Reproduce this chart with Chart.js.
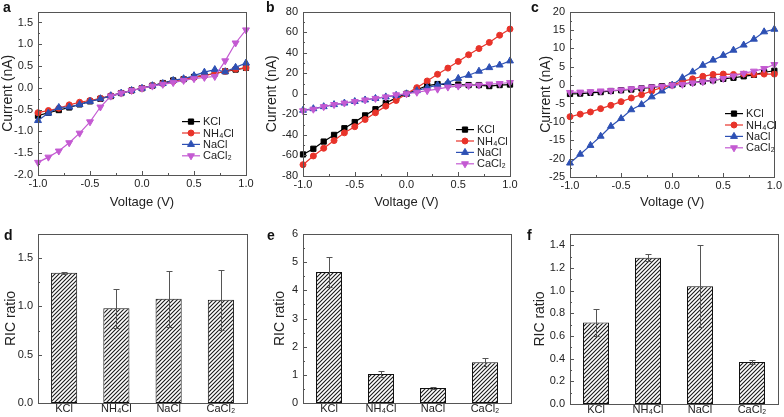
<!DOCTYPE html>
<html lang="en">
<head>
  <meta charset="UTF-8">
  <title>Ion current and RIC ratio</title>
  <script src="https://cdn.jsdelivr.net/npm/chart.js"></script>
  <style>
    body { margin: 0; background: #fff; }
    #fig { position: relative; width: 784px; height: 417px; overflow: hidden; }
    .panel { position: absolute; }
    .tag { position: absolute; font: bold 14px 'Liberation Sans', Arial, sans-serif; line-height: 14px; color: #111; }
  </style>
</head>
<body>
  <div id="fig">
    <div class="panel" style="left:0px; top:0px;"><canvas id="chartA" width="256" height="210"></canvas></div>
    <div class="panel" style="left:264px; top:0px;"><canvas id="chartB" width="256" height="210"></canvas></div>
    <div class="panel" style="left:538px; top:0px;"><canvas id="chartC" width="246" height="210"></canvas></div>
    <div class="panel" style="left:3px; top:210px;"><canvas id="chartD" width="253" height="207"></canvas></div>
    <div class="panel" style="left:272px; top:210px;"><canvas id="chartE" width="248" height="207"></canvas></div>
    <div class="panel" style="left:532px; top:210px;"><canvas id="chartF" width="252" height="207"></canvas></div>

    <div class="tag" style="left:3px; top:0px;">a</div>
    <div class="tag" style="left:266px; top:0px;">b</div>
    <div class="tag" style="left:531px; top:0px;">c</div>
    <div class="tag" style="left:4px; top:228px;">d</div>
    <div class="tag" style="left:267px; top:228px;">e</div>
    <div class="tag" style="left:527px; top:228px;">f</div>
  </div>

  <script>
    // ---- data ----
    const voltage = [-1.0, -0.9, -0.8, -0.7, -0.6, -0.5, -0.4, -0.3, -0.2, -0.1, 0.0, 0.1, 0.2, 0.3, 0.4, 0.5, 0.6, 0.7, 0.8, 0.9, 1.0];
    const saltNames = ['KCl', 'NH₄Cl', 'NaCl', 'CaCl₂'];
    const voltageTicks = [-1.0, -0.5, 0.0, 0.5, 1.0];

    // panel a (nA)
    const aKCl   = [-0.64, -0.57, -0.51, -0.45, -0.38, -0.31, -0.25, -0.19, -0.12, -0.06, -0.01, 0.05, 0.11, 0.17, 0.20, 0.25, 0.29, 0.33, 0.38, 0.42, 0.46];
    const aNH4Cl = [-0.57, -0.52, -0.47, -0.39, -0.33, -0.29, -0.24, -0.18, -0.12, -0.06, -0.01, 0.05, 0.10, 0.15, 0.20, 0.24, 0.28, 0.33, 0.38, 0.43, 0.46];
    const aNaCl  = [-0.75, -0.58, -0.45, -0.44, -0.38, -0.31, -0.25, -0.18, -0.12, -0.06, -0.01, 0.05, 0.10, 0.17, 0.21, 0.28, 0.36, 0.42, 0.37, 0.47, 0.57];
    const aCaCl2 = [-1.71, -1.59, -1.45, -1.26, -1.04, -0.78, -0.44, -0.19, -0.12, -0.06, -0.01, 0.04, 0.08, 0.12, 0.17, 0.21, 0.24, 0.26, 0.62, 1.03, 1.33];
    const aTicks = [-2.0, -1.5, -1.0, -0.5, 0.0, 0.5, 1.0, 1.5];

    // panel b (nA)
    const bKCl   = [-59, -53.5, -46.5, -40, -33.5, -27.5, -21, -15, -9, -4, 0, 4, 8, 9.5, 9, 9, 8.5, 8.5, 7.5, 8.5, 9];
    const bNH4Cl = [-69, -60.5, -53, -45.5, -38, -32, -25, -18.5, -12, -6.5, 0, 6, 12.5, 19, 25, 31.5, 38, 44, 50, 57, 63];
    const bNaCl  = [-16, -14.5, -12.5, -10.5, -9, -7.5, -6, -4.5, -3, -1.5, 0, 3, 6, 8.5, 11, 15, 18, 22, 25.5, 28, 32];
    const bCaCl2 = [-16.5, -15, -12.5, -10.5, -9, -7.5, -6, -4.5, -3, -1, 0, 1.5, 3, 4.5, 6.5, 7.5, 8, 8.5, 9.5, 10, 11];
    const bTicks = [-80, -60, -40, -20, 0, 20, 40, 60, 80];

    // panel c (nA)
    const cKCl   = [-2.4, -2.3, -2.1, -1.9, -1.6, -1.4, -1.2, -0.9, -0.6, -0.3, 0, 0.3, 0.7, 1.0, 1.3, 1.7, 2.0, 2.4, 2.8, 3.5, 3.9];
    const cNH4Cl = [-8.6, -7.9, -7.3, -6.4, -5.5, -4.5, -3.5, -2.6, -1.6, -0.6, 0, 1.0, 1.7, 2.4, 2.9, 3.0, 2.9, 3.0, 2.9, 3.0, 3.0];
    const cNaCl  = [-21.2, -18.8, -16.4, -13.9, -11.2, -9.1, -6.7, -5.3, -3.2, -1.6, 0, 2.0, 3.6, 5.4, 6.8, 8.1, 9.5, 10.9, 12.5, 14.5, 15.2];
    const cCaCl2 = [-2.0, -1.9, -1.8, -1.6, -1.5, -1.3, -1.0, -0.8, -0.5, -0.3, 0, 0.2, 0.6, 0.9, 1.3, 1.8, 2.5, 3.2, 3.8, 4.5, 5.6];
    const cTicks = [-25, -20, -15, -10, -5, 0, 5, 10, 15, 20];

    // panels d, e, f: RIC ratio with error
    const dRatio = [1.35, 0.98, 1.08, 1.07];
    const dError = [0.01, 0.20, 0.29, 0.31];
    const dTicks = [0.0, 0.5, 1.0, 1.5];

    const eRatio = [4.65, 1.03, 0.53, 1.45];
    const eError = [0.52, 0.09, 0.03, 0.15];
    const eTicks = [0, 1, 2, 3, 4, 5, 6];

    const fRatio = [0.72, 1.29, 1.04, 0.37];
    const fError = [0.12, 0.03, 0.36, 0.02];
    const fTicks = [0.0, 0.2, 0.4, 0.6, 0.8, 1.0, 1.2, 1.4];

    // ---- looks ----
    const FONT = "'Liberation Sans', Arial, 'DejaVu Sans', sans-serif";
    Chart.defaults.font.family = FONT;
    Chart.defaults.color = '#222';

    const seriesStyle = [
      { color: '#000000', pointStyle: 'rect', radius: 3.7, rotation: 0 },
      { color: '#e8332a', pointStyle: 'circle', radius: 3, rotation: 0 },
      { color: '#2d50b4', pointStyle: 'triangle', radius: 4, rotation: 0 },
      { color: '#c45ad2', pointStyle: 'triangle', radius: 4, rotation: 180 }
    ];

    // box around the plot plus inward major / minor ticks on left and bottom
    const frameTicks = {
      id: 'frameTicks',
      afterDatasetsDraw(chart, args, opts) {
        const { ctx, chartArea: a, scales } = chart;
        ctx.save();
        ctx.strokeStyle = '#555';
        ctx.lineWidth = 1;
        ctx.beginPath();
        const ys = scales.y;
        const yMinor = minorValues(ys.min, ys.max, opts.yMinor);
        yMinor.forEach(v => {
          const py = Math.round(ys.getPixelForValue(v)) + 0.5;
          const major = ys.ticks.some(t => Math.abs(t.value - v) < 1e-6);
          ctx.moveTo(a.left, py);
          ctx.lineTo(a.left + (major ? 4 : 2), py);
        });
        if (opts.xMinor) {
          const xs = scales.x;
          minorValues(xs.min, xs.max, opts.xMinor).forEach(v => {
            const px = Math.round(xs.getPixelForValue(v)) + 0.5;
            const major = xs.ticks.some(t => Math.abs(t.value - v) < 1e-6);
            ctx.moveTo(px, a.bottom);
            ctx.lineTo(px, a.bottom - (major ? 4 : 2));
          });
        }
        ctx.stroke();
        ctx.strokeRect(Math.round(a.left) + 0.5, Math.round(a.top) + 0.5,
                       Math.round(a.right - a.left), Math.round(a.bottom - a.top));
        ctx.restore();
      }
    };

    function minorValues(min, max, step) {
      const out = [];
      const n = Math.round((max - min) / step);
      for (let k = 0; k <= n; k++) out.push(min + k * step);
      return out;
    }

    // little key in the lower right of the line panels
    const seriesKey = {
      id: 'seriesKey',
      afterDatasetsDraw(chart, args, opts) {
        const { ctx, chartArea } = chart;
        ctx.save();
        ctx.font = '11px ' + FONT;
        ctx.textBaseline = 'middle';
        chart.data.datasets.forEach((ds, i) => {
          const x0 = chartArea.left + opts.x;
          const y0 = chartArea.top + opts.y + i * 11.4;
          ctx.strokeStyle = ds.borderColor;
          ctx.fillStyle = ds.pointBackgroundColor;
          ctx.lineWidth = 1.2;
          ctx.beginPath();
          ctx.moveTo(x0, y0);
          ctx.lineTo(x0 + 18, y0);
          ctx.stroke();
          ctx.lineWidth = 1;
          Chart.helpers.drawPoint(ctx, { pointStyle: ds.pointStyle, rotation: ds.pointRotation, radius: ds.pointRadius, borderWidth: 1 }, x0 + 9, y0);
          ctx.fillStyle = '#222';
          ctx.fillText(ds.label, x0 + 21, y0 + 0.5);
        });
        ctx.restore();
      }
    };

    // vertical error bars for the bar panels
    const errorBars = {
      id: 'errorBars',
      afterDatasetsDraw(chart) {
        const ctx = chart.ctx;
        const ys = chart.scales.y;
        ctx.save();
        ctx.strokeStyle = '#555';
        ctx.lineWidth = 1;
        chart.data.datasets.forEach((ds, i) => {
          chart.getDatasetMeta(i).data.forEach((bar, j) => {
            const x = Math.round(bar.x) + 0.5;
            const hi = Math.round(ys.getPixelForValue(ds.data[j] + ds.errors[j])) + 0.5;
            const lo = Math.round(ys.getPixelForValue(ds.data[j] - ds.errors[j])) + 0.5;
            ctx.beginPath();
            ctx.moveTo(x, hi); ctx.lineTo(x, lo);
            ctx.moveTo(x - 3, hi); ctx.lineTo(x + 3, hi);
            ctx.moveTo(x - 3, lo); ctx.lineTo(x + 3, lo);
            ctx.stroke();
          });
        });
        ctx.restore();
      }
    };

    function fixedTicks(list) {
      return scale => { scale.ticks = list.map(v => ({ value: v })); };
    }

    function makeLineChart(id, currents, yMin, yMax, yTicks, decimals, yMinor, box, key) {
      const datasets = currents.map((arr, i) => {
        const st = seriesStyle[i];
        return {
          label: saltNames[i],
          data: voltage.map((v, k) => ({ x: v, y: arr[k] })),
          borderColor: st.color,
          backgroundColor: st.color,
          pointBackgroundColor: st.color,
          pointBorderColor: st.color,
          pointStyle: st.pointStyle,
          pointRadius: st.radius,
          pointRotation: st.rotation,
          pointBorderWidth: 1,
          borderWidth: 1.2,
          tension: 0,
          clip: false,
          order: 3 - i
        };
      });
      new Chart(document.getElementById(id), {
        type: 'line',
        data: { datasets: datasets },
        options: {
          responsive: false,
          animation: false,
          devicePixelRatio: 1,
          layout: { padding: { left: 0, top: box.top, right: box.right, bottom: 0 } },
          plugins: {
            legend: { display: false },
            tooltip: { enabled: false },
            frameTicks: { xMinor: 0.25, yMinor: yMinor },
            seriesKey: key
          },
          scales: {
            x: {
              type: 'linear', min: -1, max: 1,
              afterBuildTicks: fixedTicks(voltageTicks),
              afterFit: s => { s.height = box.xH; },
              grid: { display: false, drawTicks: false },
              border: { display: false },
              ticks: { padding: 2, font: { size: 11 }, maxRotation: 0, callback: v => v.toFixed(1) },
              title: { display: true, text: 'Voltage (V)', font: { size: 13 }, padding: 0 }
            },
            y: {
              type: 'linear', min: yMin, max: yMax,
              afterBuildTicks: fixedTicks(yTicks),
              afterFit: s => { s.width = box.yW; },
              grid: { display: false, drawTicks: false },
              border: { display: false },
              ticks: { padding: 5, font: { size: 11 }, callback: v => v.toFixed(decimals) },
              title: { display: true, text: 'Current (nA)', font: { size: 14 }, padding: 0 }
            }
          }
        },
        plugins: [frameTicks, seriesKey]
      });
    }

    function hatchFor(canvas) {
      const c = document.createElement('canvas');
      c.width = 4; c.height = 4;
      const g = c.getContext('2d');
      g.fillStyle = '#ffffff';
      g.fillRect(0, 0, 4, 4);
      g.strokeStyle = '#1a1a1a';
      g.lineWidth = 1.1;
      g.beginPath();
      g.moveTo(0, 4); g.lineTo(4, 0);
      g.moveTo(-1, 1); g.lineTo(1, -1);
      g.moveTo(3, 5); g.lineTo(5, 3);
      g.stroke();
      return canvas.getContext('2d').createPattern(c, 'repeat');
    }

    function makeBarChart(id, ratio, errors, yMax, yTicks, decimals, yMinor, box) {
      const canvas = document.getElementById(id);
      new Chart(canvas, {
        type: 'bar',
        data: {
          labels: saltNames,
          datasets: [{
            data: ratio,
            errors: errors,
            backgroundColor: hatchFor(canvas),
            borderColor: '#111',
            borderWidth: 1,
            borderSkipped: false,
            barPercentage: 0.5,
            categoryPercentage: 1.0
          }]
        },
        options: {
          responsive: false,
          animation: false,
          devicePixelRatio: 1,
          layout: { padding: { left: 0, top: box.top, right: box.right, bottom: 0 } },
          plugins: {
            legend: { display: false },
            tooltip: { enabled: false },
            frameTicks: { yMinor: yMinor }
          },
          scales: {
            x: {
              afterFit: s => { s.height = box.xH; },
              grid: { display: false, drawTicks: false },
              border: { display: false },
              ticks: { padding: -1, font: { size: 11 }, maxRotation: 0 }
            },
            y: {
              type: 'linear', min: 0, max: yMax,
              afterBuildTicks: fixedTicks(yTicks),
              afterFit: s => { s.width = box.yW; },
              grid: { display: false, drawTicks: false },
              border: { display: false },
              ticks: { padding: 5, font: { size: 11 }, callback: v => v.toFixed(decimals) },
              title: { display: true, text: 'RIC ratio', font: { size: 14 }, padding: 0 }
            }
          }
        },
        plugins: [errorBars, frameTicks]
      });
    }

    makeLineChart('chartA', [aKCl, aNH4Cl, aNaCl, aCaCl2], -2, 1.75, aTicks, 1, 0.25,
                  { yW: 38, xH: 35, top: 8, right: 10 }, { x: 144, y: 110 });
    makeLineChart('chartB', [bKCl, bNH4Cl, bNaCl, bCaCl2], -80, 80, bTicks, 0, 10,
                  { yW: 39, xH: 34, top: 8, right: 10 }, { x: 153, y: 118 });
    makeLineChart('chartC', [cKCl, cNH4Cl, cNaCl, cCaCl2], -25, 20, cTicks, 0, 2.5,
                  { yW: 32, xH: 33, top: 8, right: 7 }, { x: 155, y: 102 });

    makeBarChart('chartD', dRatio, dError, 1.75, dTicks, 1, 0.25, { yW: 35, xH: 14, top: 24, right: 9 });
    makeBarChart('chartE', eRatio, eError, 6, eTicks, 0, 0.5, { yW: 31, xH: 14, top: 24, right: 9 });
    makeBarChart('chartF', fRatio, fError, 1.5, fTicks, 1, 0.1, { yW: 38, xH: 13, top: 24, right: 6 });
  </script>
</body>
</html>
